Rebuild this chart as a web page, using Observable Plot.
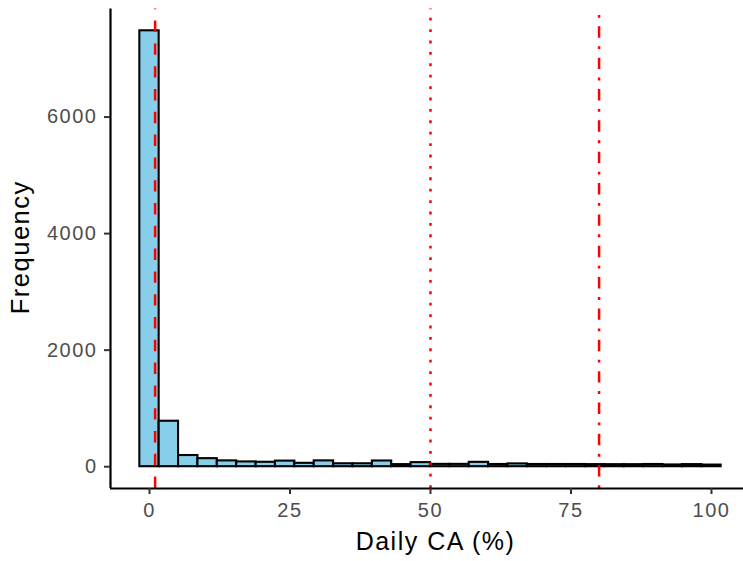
<!DOCTYPE html>
<html><head><meta charset="utf-8">
<script src="https://cdn.jsdelivr.net/npm/d3@7"></script>
<script src="https://cdn.jsdelivr.net/npm/@observablehq/plot@0.6"></script>
<style>body{margin:0;background:#fff}</style>
</head><body><div id="chart"></div>
<script>
// Histogram bin edges (31 edges -> 30 bins) and counts
const binEdges = [-1.72, 1.72, 5.17, 8.62, 12.07, 15.52, 18.97, 22.41, 25.86, 29.31,
  32.76, 36.21, 39.66, 43.10, 46.55, 50.00, 53.45, 56.90, 60.34, 63.79,
  67.24, 70.69, 74.14, 77.59, 81.03, 84.48, 87.93, 91.38, 94.83, 98.28, 101.72];
const counts = [7480, 780, 192, 138, 100, 82, 76, 96, 58, 100,
  50, 50, 98, 36, 70, 40, 40, 75, 38, 48,
  38, 38, 38, 36, 35, 35, 38, 30, 36, 28];
const refValues = [1, 50, 80];
const xTicks = [0, 25, 50, 75, 100];
const yTicks = [0, 2000, 4000, 6000];
const xTitle = "Daily CA (%)";
const yTitle = "Frequency";

const bins = counts.map((c, i) => ({x1: binEdges[i], x2: binEdges[i + 1], count: c}));
const xDomain = [-6.94, 105.7];
const yDomain = [-374, 7854];

const plot = Plot.plot({
  width: 743, height: 561,
  marginLeft: 110, marginRight: 0, marginTop: 8.5, marginBottom: 73,
  style: {fontFamily: "'Liberation Sans', Arial, sans-serif", background: "#fff", overflow: "visible", letterSpacing: "1.5px"},
  x: {domain: xDomain},
  y: {domain: yDomain},
  marks: [
    Plot.rectY(bins, {x1: "x1", x2: "x2", y: "count", fill: "#87CEEB", stroke: "black", strokeWidth: 2.1}),
    Plot.ruleX([refValues[0]], {y1: yDomain[0], y2: yDomain[1], stroke: "red", strokeWidth: 2.5, strokeDasharray: "11.4,11.4"}),
    Plot.ruleX([refValues[1]], {y1: yDomain[0], y2: yDomain[1], stroke: "red", strokeWidth: 2.5, strokeDasharray: "2.85,8.55"}),
    Plot.ruleX([refValues[2]], {y1: yDomain[0], y2: yDomain[1], stroke: "red", strokeWidth: 2.5, strokeDasharray: "2.85,8.55,11.4,8.55"}),
    Plot.ruleX([xDomain[0]], {stroke: "black", strokeWidth: 2.2}),
    Plot.ruleY([yDomain[0]], {stroke: "black", strokeWidth: 2.2}),
    Plot.axisX(xTicks, {tickSize: 6, tickPadding: 8, fontSize: 20, stroke: "#333", strokeWidth: 2, fill: "#4D4D4D", label: null}),
    Plot.axisY(yTicks, {tickSize: 6, tickPadding: 7, fontSize: 20, stroke: "#333", strokeWidth: 2, fill: "#4D4D4D", tickFormat: d => String(d), label: null}),
    Plot.text([xTitle], {frameAnchor: "bottom", dy: 53, dx: 8.5, textAnchor: "middle", lineAnchor: "middle", fontSize: 25, fill: "black"}),
    Plot.text([yTitle], {frameAnchor: "left", dx: -89.5, dy: -1.5, rotate: -90, textAnchor: "middle", lineAnchor: "middle", fontSize: 25.5, fill: "black"})
  ]
});
document.getElementById("chart").appendChild(plot);
</script>
</body></html>
